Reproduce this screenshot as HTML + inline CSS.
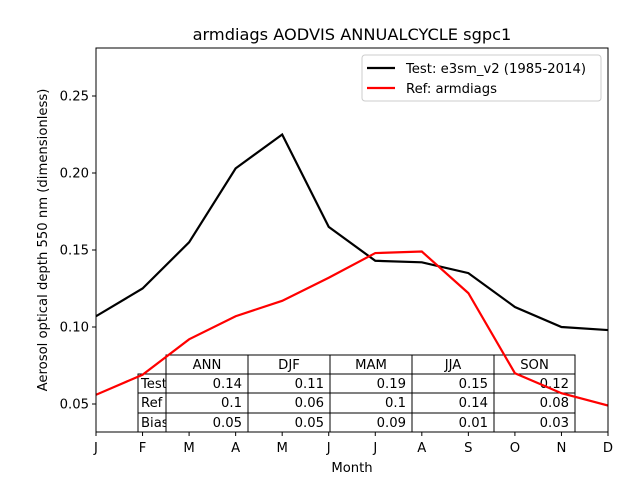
<!DOCTYPE html>
<html><head><meta charset="utf-8"><style>
body{margin:0;background:#fff}
svg{display:block;font-family:"DejaVu Sans","Liberation Sans",sans-serif}
</style></head><body>
<svg id="chart" width="640" height="480">
<rect width="640" height="480" fill="#fff"/>
<text x="352" y="40" font-size="16.2" text-anchor="middle">armdiags AODVIS ANNUALCYCLE sgpc1</text>
<g id="table"></g>
<g id="axes"></g>
<g id="lines"></g>
<rect x="96" y="48" width="512" height="384" fill="none" stroke="#000" stroke-width="1"/>
<text x="352" y="472" font-size="13.2" text-anchor="middle">Month</text>
<text transform="translate(47,240) rotate(-90)" font-size="13.2" text-anchor="middle">Aerosol optical depth 550 nm (dimensionless)</text>
<g>
<rect x="362" y="55" width="239" height="46" rx="3" fill="#fff" stroke="#ccc"/>
<line x1="367" y1="68" x2="395" y2="68" stroke="#000" stroke-width="2.2"/>
<text x="406" y="73" font-size="13.2">Test: e3sm_v2 (1985-2014)</text>
<line x1="367" y1="88" x2="395" y2="88" stroke="red" stroke-width="2.2"/>
<text x="406" y="93" font-size="13.2">Ref: armdiags</text>
</g>
</svg>
<script>
const months=["J","F","M","A","M","J","J","A","S","O","N","D"];
const testVals=[0.107,0.125,0.155,0.203,0.225,0.165,0.143,0.142,0.135,0.113,0.100,0.098];
const refVals=[0.056,0.069,0.092,0.107,0.117,0.132,0.148,0.149,0.122,0.070,0.057,0.049];
const yTicks=[0.05,0.10,0.15,0.20,0.25];
const seasons=["ANN","DJF","MAM","JJA","SON"];
const rowLabels=["Test","Ref","Bias"];
const testSeason=["0.14","0.11","0.19","0.15","0.12"];
const refSeason=["0.1","0.06","0.1","0.14","0.08"];
const biasSeason=["0.05","0.05","0.09","0.01","0.03"];
const NS="http://www.w3.org/2000/svg";
const x=i=>96+i*512/11;
const y=v=>404-(v-0.05)*1540;
function mk(t,a,p){const e=document.createElementNS(NS,t);for(const k in a)e.setAttribute(k,a[k]);p.appendChild(e);return e;}
const axes=document.getElementById('axes');
months.forEach((m,i)=>{
  const t=mk('line',{x1:x(i),x2:x(i),y1:432,y2:436,stroke:'#000'},axes);
  
  
  const l=mk('text',{x:x(i),y:452,'font-size':13.2,'text-anchor':'middle'},axes);l.textContent=m;
  
  
});
yTicks.forEach(v=>{
  const t=mk('line',{x1:92,x2:96,y1:y(v),y2:y(v),stroke:'#000'},axes);
  
  
  const l=mk('text',{x:89,y:y(v)+4.5,'font-size':13.2,'text-anchor':'end'},axes);l.textContent=v.toFixed(2);
  
  
});
const tb=document.getElementById('table');
const cols=[166,248,330,412,494,575];const rows=[355,374,393,413,432];
seasons.forEach((s,j)=>{
  mk('rect',{x:cols[j],y:rows[0],width:cols[j+1]-cols[j],height:rows[1]-rows[0],fill:'none',stroke:'#000'},tb);
  const t=mk('text',{x:(cols[j]+cols[j+1])/2,y:rows[0]+14,'font-size':13.2,'text-anchor':'middle'},tb);t.textContent=s;
  
  
});
[testSeason,refSeason,biasSeason].forEach((arr,r)=>{
  const lc=mk('svg',{x:138,y:rows[r+1],width:28,height:rows[r+2]-rows[r+1]},tb);
  const lt=mk('text',{x:3,y:14,'font-size':13.2},lc);lt.textContent=rowLabels[r];
  
  
  mk('rect',{x:138,y:rows[r+1],width:28,height:rows[r+2]-rows[r+1],fill:'none',stroke:'#000'},tb);
  arr.forEach((v,j)=>{
    mk('rect',{x:cols[j],y:rows[r+1],width:cols[j+1]-cols[j],height:rows[r+2]-rows[r+1],fill:'none',stroke:'#000'},tb);
    const t=mk('text',{x:cols[j+1]-6,y:rows[r+1]+14,'font-size':13.2,'text-anchor':'end'},tb);t.textContent=v;
    
    
  });
});
const lines=document.getElementById('lines');
const clip=mk('clipPath',{id:'pc'},lines);mk('rect',{x:96,y:48,width:512,height:384},clip);
const g=mk('g',{'clip-path':'url(#pc)'},lines);
const pl=mk('polyline',{points:testVals.map((v,i)=>x(i)+','+y(v)).join(' '),fill:'none',stroke:'#000','stroke-width':2.2},g);


const rl=mk('polyline',{points:refVals.map((v,i)=>x(i)+','+y(v)).join(' '),fill:'none',stroke:'red','stroke-width':2.2},g);


</script>
</body></html>
